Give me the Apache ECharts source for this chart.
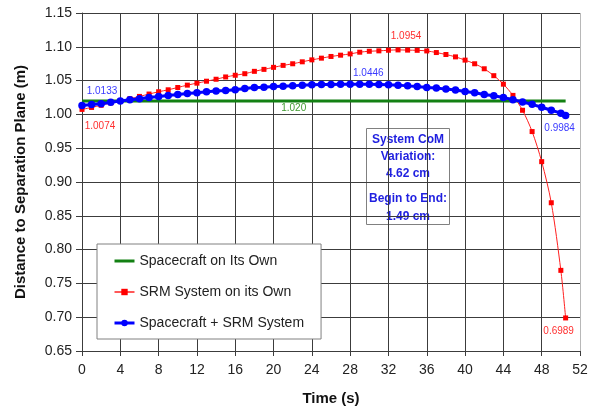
<!DOCTYPE html>
<html>
<head>
<meta charset="utf-8">
<script src="https://cdn.jsdelivr.net/npm/echarts@6/dist/echarts.min.js"></script>
<style>
html,body{margin:0;padding:0;background:#fff;}
#chart{width:598px;height:411px;}
</style>
</head>
<body>
<div id="chart"></div>
<script>
// ---- data ----
const timeS = [0,1,2,3,4,5,6,7,8,9,10,11,12,13,14,15,16,17,18,19,20,21,22,23,24,25,26,27,28,29,30,31,32,33,34,35,36,37,38,39,40,41,42,43,44,45,46,47,48,49,50,50.5];
const srmOwn = [
  1.0074,1.0103,1.0135,1.0170,1.0203,1.0232,1.0266,1.0301,1.0335,1.0364,
  1.0398,1.0433,1.0462,1.0491,1.0520,1.0554,1.0579,1.0602,1.0637,1.0666,
  1.0696,1.0725,1.0749,1.0778,1.0807,1.0832,1.0857,1.0876,1.0895,1.0920,
  1.0934,1.0940,1.0949,1.0954,1.0951,1.0948,1.0939,1.0915,1.0886,1.0851,
  1.0803,1.0749,1.0675,1.0573,1.0447,1.0281,1.0061,0.9746,0.9301,0.8693,
  0.7693,0.6989];
const combined = [
  1.0133,1.0145,1.0159,1.0178,1.0198,1.0218,1.0232,1.0251,1.0266,1.0281,
  1.0295,1.0310,1.0320,1.0335,1.0345,1.0354,1.0364,1.0384,1.0398,1.0403,
  1.0412,1.0418,1.0422,1.0433,1.0437,1.0441,1.0443,1.0445,1.0446,1.0446,
  1.0446,1.0442,1.0437,1.0433,1.0422,1.0412,1.0398,1.0389,1.0374,1.0360,
  1.0340,1.0320,1.0295,1.0276,1.0251,1.0218,1.0184,1.0149,1.0105,1.0061,
  1.0018,0.9984];
const scTime = [0, 50.5];
const scOwn = [1.020, 1.020];
const seriesNames = ['Spacecraft on Its Own','SRM System on its Own','Spacecraft + SRM System'];
const xTicks = {min:0, max:52, step:4};
const yTicks = {min:0.65, max:1.15, step:0.05};
const noteLines = ['System CoM','Variation:','4.62 cm','Begin to End:','1.49 cm'];
const scLabelText = '1.020';
const scLabelTime = 22;

// ---- chart ----
const FONT = '"Liberation Sans", Arial, sans-serif';
const redLabels = {0:{position:'bottom', offset:[18,4]}, 33:{position:'top', offset:[8,-1]}, 51:{position:'bottom', offset:[-7,1]}};
const blueLabels = {0:{position:'top', offset:[20,0]}, 30:{position:'top', offset:[-1,3]}, 51:{position:'bottom', offset:[-6,-1]}};

function build(vals, labels, color) {
  return timeS.map((t,i) => {
    const it = {value:[t, vals[i]]};
    if (labels[i]) {
      it.label = Object.assign({show:true, color:color, fontSize:10, fontFamily:FONT,
        formatter: (p)=> p.value[1].toFixed(4)}, labels[i]);
    }
    return it;
  });
}

const xColors = [];
for (let v = xTicks.min; v <= xTicks.max; v += xTicks.step) xColors.push(v === xTicks.max ? '#b8b8b8' : '#3c3c3c');

const chart = echarts.init(document.getElementById('chart'), null, {renderer:'canvas'});
chart.setOption({
  animation:false,
  backgroundColor:'#fff',
  textStyle:{fontFamily:FONT},
  grid:{left:82, right:18, top:13, bottom:57, containLabel:false},
  xAxis:{
    type:'value', min:xTicks.min, max:xTicks.max, interval:xTicks.step,
    name:'Time (s)', nameLocation:'middle', nameGap:40,
    nameTextStyle:{fontSize:15, fontWeight:'bold', color:'#111', fontFamily:FONT},
    axisLine:{show:true, lineStyle:{color:'#3c3c3c', width:1}},
    axisTick:{show:true, length:5, lineStyle:{color:'#3c3c3c'}},
    axisLabel:{fontSize:14, color:'#222', margin:12, fontFamily:FONT},
    splitLine:{show:true, lineStyle:{color:xColors, width:1}}
  },
  yAxis:{
    type:'value', min:yTicks.min, max:yTicks.max, interval:yTicks.step,
    name:'Distance to Separation Plane (m)', nameLocation:'middle', nameGap:54,
    nameTextStyle:{fontSize:15, fontWeight:'bold', color:'#111', fontFamily:FONT},
    axisLine:{show:true, lineStyle:{color:'#3c3c3c', width:1}},
    axisTick:{show:true, length:6, lineStyle:{color:'#3c3c3c'}},
    axisLabel:{fontSize:14, color:'#222', margin:10, fontFamily:FONT, formatter:(v)=>v.toFixed(2)},
    splitLine:{show:true, lineStyle:{color:'#3c3c3c', width:1}}
  },
  legend:{
    orient:'vertical', left:97, top:244,
    padding:[10,17,9,16], itemGap:17, itemWidth:20, itemHeight:8,
    backgroundColor:'#fff', borderColor:'#808080', borderWidth:1,
    textStyle:{fontSize:14, color:'#222', fontFamily:FONT},
    data:[
      {name:seriesNames[0], itemStyle:{color:'rgba(0,0,0,0)', borderWidth:0, opacity:0}, lineStyle:{width:3}},
      {name:seriesNames[1], lineStyle:{width:1.5}},
      {name:seriesNames[2], lineStyle:{width:3}}
    ]
  },
  series:[
    {
      name:seriesNames[0], type:'line', symbol:'none',
      data:scTime.map((t,i)=>[t, scOwn[i]]),
      lineStyle:{color:'#138013', width:3}, itemStyle:{color:'#138013'},
      z:2,
      markPoint:{
        symbol:'circle', symbolSize:1, itemStyle:{color:'rgba(0,0,0,0)'},
        label:{show:true, position:'bottom', offset:[1,-3], color:'#3f9a2f', fontSize:10, fontFamily:FONT, formatter:scLabelText},
        data:[{coord:[scLabelTime, scOwn[0]]}]
      }
    },
    {
      name:seriesNames[1], type:'line', symbol:'rect', symbolSize:5, smooth:0.3,
      data:build(srmOwn, redLabels, '#ff3030'),
      lineStyle:{color:'#ff2020', width:1}, itemStyle:{color:'#ff0000'},
      z:3
    },
    {
      name:seriesNames[2], type:'line', symbol:'circle', symbolSize:7.5,
      data:build(combined, blueLabels, '#3a3aff'),
      lineStyle:{color:'#0000ff', width:3}, itemStyle:{color:'#0000ff'},
      z:4
    }
  ],
  graphic:[{
    type:'group', left:366, top:128,
    children:[
      {type:'rect', shape:{x:0,y:0,width:83,height:96}, style:{fill:'#fff', stroke:'#808080', lineWidth:1}},
      ...noteLines.map((s,i)=>({
        type:'text', x:41.5, y:[11,28,45,70,88][i],
        style:{text:s, fill:'#1f1fe0', font:'bold 12px ' + FONT,
          align:'center', verticalAlign:'middle', textAlign:'center', textVerticalAlign:'middle'}
      }))
    ]
  }]
});
</script>
</body>
</html>
